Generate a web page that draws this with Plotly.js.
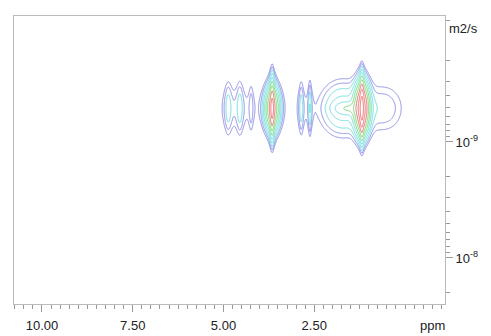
<!DOCTYPE html>
<html>
<head>
<meta charset="utf-8">
<script src="https://cdn.plot.ly/plotly-3.0.1.min.js"></script>
<style>html,body{margin:0;padding:0;background:#fff;}#chart{width:491px;height:336px;}</style>
</head>
<body>
<div id="chart"></div>
<script>
// Peak components read from the DOSY map
// chemical shift (ppm), log10 diffusion coefficient (m2/s), relative height,
// width along ppm, Lorentz fraction of the ppm line shape, width along log10 D
var peakPpm       = [4.87,  4.55,  4.24,  3.66,  3.66,  2.86,  2.62,  1.75,  0.55,  1.55,  1.19,  1.19];
var peakLogD      = [-9.29, -9.29, -9.29, -9.29, -9.29, -9.29, -9.29, -9.29, -9.29, -9.29, -9.29, -9.29];
var peakAmp       = [0.040, 0.040, 0.022, 0.40,  0.25,  0.040, 0.045, 0.060, 0.025, 0.070, 0.60,  0.45];
var peakWidthPpm  = [0.10,  0.09,  0.06,  0.05,  0.12,  0.06,  0.04,  0.35,  0.35,  0.25,  0.05,  0.12];
var peakLorentz   = [1,     1,     1,     1,     0,     1,     1,     0,     0,     0,     1,     0];
var peakWidthLogD = [0.145, 0.145, 0.145, 0.145, 0.10,  0.145, 0.145, 0.14,  0.14,  0.035, 0.145, 0.12];

var xTickVals = [10, 7.5, 5, 2.5, 0];
var xTickText = ['10.00', '7.50', '5.00', '2.50', ''];
var yTickVals = [-9, -8];
var yTickText = ['10<sup>-9</sup>', '10<sup>-8</sup>'];

// grid
var xs = [], ys = [], z = [];
for (var i = 0; i <= 620; i++) xs.push(-0.4 + i * 0.01);
for (var j = 0; j <= 280; j++) ys.push(-9.95 + j * 0.005);
for (var j2 = 0; j2 < ys.length; j2++) {
  var row = [];
  for (var i2 = 0; i2 < xs.length; i2++) {
    var s = 0;
    for (var k = 0; k < peakPpm.length; k++) {
      var u = (xs[i2] - peakPpm[k]) / peakWidthPpm[k];
      var v = (ys[j2] - peakLogD[k]) / peakWidthLogD[k];
      var eta = peakLorentz[k];
      var shapeX = eta / (1 + u * u) + (1 - eta) * Math.exp(-0.5 * u * u);
      s += peakAmp[k] * shapeX * Math.exp(-0.5 * v * v);
    }
    row.push(Math.log10(s + 1e-6));
  }
  z.push(row);
}

var xMinor = [];
for (var m = -1; m <= 10.75; m += 0.25) xMinor.push(m);
var yMinor = [];
for (var n = -11; n <= -8; n++) for (var q = 2; q <= 9; q++) yMinor.push(n + Math.log10(q));

var trace = {
  type: 'contour', x: xs, y: ys, z: z,
  zauto: false, zmin: -1.9, zmax: -0.1,
  autocontour: false,
  contours: {start: -1.9, end: -0.1, size: 0.2, coloring: 'lines'},
  line: {width: 1, smoothing: 1},
  colorscale: [[0, 'rgb(140,140,232)'], [0.16, 'rgb(140,140,232)'], [0.17, 'rgb(110,222,222)'], [0.5, 'rgb(110,222,222)'],
               [0.51, 'rgb(115,218,115)'], [0.83, 'rgb(115,218,115)'], [0.84, 'rgb(232,105,105)'], [1, 'rgb(232,105,105)']],
  showscale: false, hoverinfo: 'skip'
};

var font = {family: 'Liberation Sans, Arial, sans-serif', size: 13, color: '#222'};
var layout = {
  width: 491, height: 336,
  margin: {l: 14, r: 46, t: 16, b: 32},
  paper_bgcolor: '#fff', plot_bgcolor: '#fff',
  showlegend: false,
  font: font,
  xaxis: {
    range: [10.77, -1.1], tickmode: 'array', tickvals: xTickVals, ticktext: xTickText,
    ticks: 'outside', ticklen: 7, tickwidth: 1, tickcolor: '#999', ticklabelstandoff: 2,
    showline: true, linecolor: '#bbb', linewidth: 1, mirror: true,
    showgrid: false, zeroline: false, tickfont: font,
    minor: {tickmode: 'array', tickvals: xMinor, ticks: 'outside', ticklen: 4, tickcolor: '#999', showgrid: false}
  },
  yaxis: {
    side: 'right', range: [-7.603, -10.086], tickmode: 'array', tickvals: yTickVals, ticktext: yTickText,
    ticks: 'outside', ticklen: 7, tickwidth: 1, tickcolor: '#999',
    showline: true, linecolor: '#bbb', linewidth: 1, mirror: true,
    showgrid: false, zeroline: false, tickfont: font,
    minor: {tickmode: 'array', tickvals: yMinor, ticks: 'outside', ticklen: 4, tickcolor: '#999', showgrid: false}
  },
  annotations: [
    {text: 'ppm', xref: 'paper', yref: 'paper', x: 0.97, y: -0.073, xanchor: 'center', yanchor: 'middle', showarrow: false, font: font},
    {text: 'm2/s', xref: 'paper', yref: 'paper', x: 1.005, y: 0.955, xanchor: 'left', yanchor: 'middle', showarrow: false, font: font}
  ]
};
Plotly.newPlot('chart', [trace], layout, {staticPlot: true});
</script>
</body>
</html>
